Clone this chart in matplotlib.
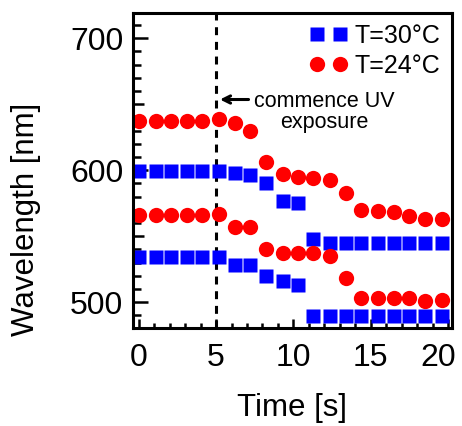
import numpy as np
import matplotlib
matplotlib.use("Agg")
import matplotlib.pyplot as plt
import matplotlib.transforms as mtransforms
from matplotlib.ticker import MultipleLocator, FuncFormatter

plt.rcParams['font.family'] = ['Liberation Sans', 'DejaVu Sans']

# time points (s)
time = [0.0, 1.1, 2.1, 3.1, 4.1, 5.2, 6.2, 7.2, 8.2, 9.3,
        10.3, 11.3, 12.4, 13.4, 14.4, 15.5, 16.5, 17.5, 18.5, 19.6]

# T=30C, two peaks
blue_a = [599, 599, 599, 599, 599, 599.5, 597.5, 596, 590, 577,
          575, 548, 545, 545, 545, 545, 545, 545, 545, 545]
blue_b = [534, 534, 534, 534, 534, 534, 528, 528, 520, 516,
          513, 489.5, 489.5, 489.5, 489.5, 489.5, 489.5, 489.5, 489.5, 489.5]

# T=24C, two peaks
red_a = [637.5, 637.5, 637.5, 637.5, 637.5, 639, 635.5, 630, 606, 597,
         595, 594, 592.5, 583, 570, 569, 568, 565, 563, 563]
red_b = [566, 566, 566, 566, 566, 567, 557, 557, 540, 537,
         537.5, 537, 535, 518, 503.5, 503.5, 503.5, 503.5, 501, 501.5]

uv_start = 5
labels = ["T=30°C", "T=24°C"]

fig = plt.figure(figsize=(4.62, 4.26), dpi=100)
ax = fig.add_axes([0.288, 0.23, 0.690, 0.7395])

ax.plot(time, blue_a, 's', color='#0000ff', ms=10, mec='none', label=labels[0])
ax.plot(time, blue_b, 's', color='#0000ff', ms=10, mec='none')
ax.plot(time, red_a, 'o', color='#ff0000', ms=11, mec='none', label=labels[1])
ax.plot(time, red_b, 'o', color='#ff0000', ms=11, mec='none')

ax.axvline(uv_start, color='black', lw=2.2, ls=(0, (2.6, 2.2)), zorder=0)

ax.annotate('', xy=(5.25, 653.5), xytext=(7.1, 653.5),
            arrowprops=dict(arrowstyle='->', lw=2.2, color='black',
                            mutation_scale=13, shrinkA=0, shrinkB=0))
ax.text(12.0, 644, "commence UV\nexposure", ha='center', va='center',
        fontsize=15.5, linespacing=1.02)

ax.set_xlim(-0.37, 20.25)
ax.set_ylim(480.5, 719)

ax.xaxis.set_major_locator(MultipleLocator(5))
ax.xaxis.set_minor_locator(MultipleLocator(1))
ax.yaxis.set_major_locator(MultipleLocator(50))
ax.yaxis.set_minor_locator(MultipleLocator(10))
ax.yaxis.set_major_formatter(FuncFormatter(lambda v, p: "%d" % v if v % 100 == 0 else ""))

ax.tick_params(axis='both', which='both', direction='in', width=1.8,
               labelsize=23, top=False, right=False)
ax.tick_params(axis='y', which='major', length=10.8, pad=7)
ax.tick_params(axis='y', which='minor', length=5.5)
ax.tick_params(axis='x', which='major', length=6.5, pad=11)
ax.tick_params(axis='x', which='minor', length=3.3)

for s in ax.spines.values():
    s.set_linewidth(2.2)

ax.set_xlabel("Time [s]", fontsize=22.5)
ax.set_ylabel("Wavelength [nm]", fontsize=22.5)
ax.xaxis.set_label_coords(0.5, -0.205)
ax.yaxis.set_label_coords(-0.29, 0.346)

ax.legend(loc='upper right', bbox_to_anchor=(1.0, 1.0), frameon=False,
          numpoints=2, fontsize=18, handlelength=1.5, handletextpad=0.3,
          labelspacing=0.22, borderaxespad=0.25, borderpad=0.2)

# draw once so the ticks know their positions
fig.canvas.draw()

for t in ax.yaxis.get_major_ticks():
    loc = t.get_loc()
    if loc is not None and round(loc) % 100 != 0:
        t.tick1line.set_markersize(8)

# nudge the last x label in so it stays inside the figure
for t in ax.xaxis.get_major_ticks():
    loc = t.get_loc()
    if loc is not None and abs(loc - 20) < 1e-6:
        shift = mtransforms.ScaledTranslation(-9.5 / 100, 0, fig.dpi_scale_trans)
        t.label1.set_transform(t.label1.get_transform() + shift)

fig.savefig("out.png", dpi=100)
